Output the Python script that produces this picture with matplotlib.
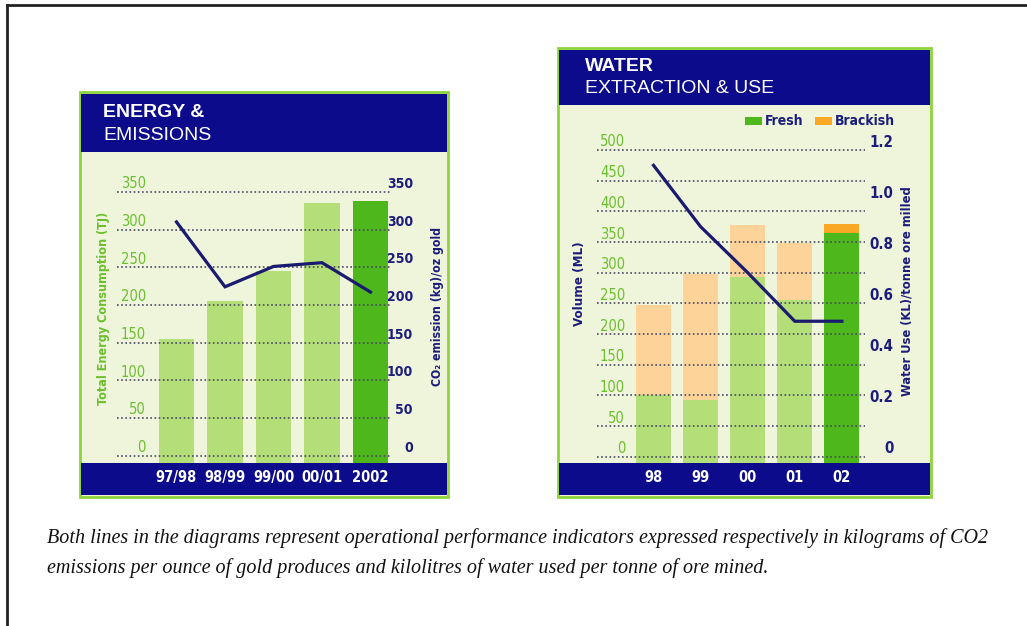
import matplotlib
matplotlib.use('Agg')
import matplotlib.pyplot as plt
from matplotlib.patches import Rectangle
from matplotlib.lines import Line2D
from matplotlib import transforms

# ---- data ----
energy_years = ['97/98', '98/99', '99/00', '00/01', '2002']
energy_tj = [155, 205, 245, 335, 338]
co2_kg_oz = [310, 224, 251, 256, 217]
energy_ticks = [0, 50, 100, 150, 200, 250, 300, 350]

water_years = ['98', '99', '00', '01', '02']
fresh_ml = [100, 92, 293, 255, 365]
brackish_ml = [147, 206, 85, 94, 15]
water_use = [1.14, 0.90, 0.72, 0.53, 0.53]
volume_ticks = [0, 50, 100, 150, 200, 250, 300, 350, 400, 450, 500]
use_ticks = ['0', '0.2', '0.4', '0.6', '0.8', '1.0', '1.2']

W, H = 1027, 626
NAVY = '#0b0b8c'
NAVY_TXT = '#1c1c7c'
LINE = '#1a1a6e'
GREEN_TXT = '#6cbf2e'
BORDER = '#8ed43c'
PANEL_BG = '#eef5da'
LIGHT_GREEN = '#b3de78'
DARK_GREEN = '#4db71c'
LIGHT_ORANGE = '#fdd39a'
DARK_ORANGE = '#f9a826'
GRID = '#4a4a62'
COND = dict(family=['DejaVu Sans'], stretch='condensed')
SANS = ['Liberation Sans', 'DejaVu Sans']


def fx(x):
    return x / W


def fy(y):
    return 1 - y / H


fig = plt.figure(figsize=(W / 100, H / 100), dpi=100)


def rect(x0, y0, x1, y1, z=-5, **kw):
    fig.add_artist(Rectangle((fx(x0), fy(y1)), fx(x1) - fx(x0), fy(y0) - fy(y1),
                             transform=fig.transFigure, zorder=z, **kw))


# outer frame (top and left edges only)
fig.add_artist(Line2D([fx(7), 1], [fy(5), fy(5)], transform=fig.transFigure, color='#222222', lw=2))
fig.add_artist(Line2D([fx(7), fx(7)], [fy(5), 0], transform=fig.transFigure, color='#222222', lw=2))


def chart_axes(x0, x1, ytop, ybot, zero_px, top_px, top_val, c0, step):
    ax = fig.add_axes([fx(x0), fy(ybot), fx(x1) - fx(x0), fy(ytop) - fy(ybot)])
    scale = (zero_px - top_px) / top_val
    ax.set_ylim((zero_px - ybot) / scale, (zero_px - ytop) / scale)
    ax.set_xlim((x0 - c0) / step, (x1 - c0) / step)
    ax.patch.set_alpha(0)
    for s in ax.spines.values():
        s.set_visible(False)
    ax.set_yticks([])
    ax.tick_params(axis='x', length=0, pad=5.5, labelcolor='white')
    return ax


def grid_and_labels(ax, ticks, dx):
    for v in ticks:
        ax.axhline(v, color=GRID, lw=1.2, linestyle=(0, (1, 1.5)), zorder=3)
    off = transforms.offset_copy(ax.get_yaxis_transform(), fig=fig, x=dx, y=8, units='dots')
    for v in ticks:
        ax.text(0, v, str(v), transform=off, ha='right', va='center',
                color=GREEN_TXT, fontsize=10.5, **COND)


def right_labels(axt, vals, texts, dx, size):
    off = transforms.offset_copy(axt.get_yaxis_transform(), fig=fig, x=dx, y=8, units='dots')
    for v, t in zip(vals, texts):
        axt.text(1, v, t, transform=off, ha='right', va='center',
                 color=NAVY_TXT, weight='bold', fontsize=size, **COND)


def twin(ax, factor):
    axt = ax.twinx()
    lo, hi = ax.get_ylim()
    axt.set_ylim(lo * factor, hi * factor)
    axt.patch.set_alpha(0)
    for s in axt.spines.values():
        s.set_visible(False)
    axt.set_yticks([])
    return axt


# ================= ENERGY & EMISSIONS =================
rect(80, 92, 448, 497, facecolor=PANEL_BG, edgecolor=BORDER, lw=2, z=-6)
rect(81, 94, 447, 152, facecolor=NAVY, edgecolor='none')
rect(81, 462.7, 447, 495, facecolor=NAVY, edgecolor='none')
fig.text(fx(103), fy(112.7), 'ENERGY &', color='white', family=SANS, weight='bold',
         fontsize=14, va='center')
fig.text(fx(103), fy(135), 'EMISSIONS', color='white', family=SANS, fontsize=14, va='center')

ax1 = chart_axes(117, 392, 160, 462.7, 455.7, 191.8, 350, 176.5, 48.5)
x1 = list(range(len(energy_years)))
base1 = ax1.get_ylim()[0]
colors1 = [LIGHT_GREEN] * (len(x1) - 1) + [DARK_GREEN]
ax1.bar(x1, [v - base1 for v in energy_tj], bottom=base1, width=0.74, color=colors1, zorder=1)
grid_and_labels(ax1, energy_ticks, 29)
ax1.set_xticks(x1, energy_years, weight='bold', fontsize=10.5, **COND)

ax1t = twin(ax1, 1.0)
ax1t.plot(x1, co2_kg_oz, color=LINE, lw=2.3, solid_joinstyle='miter')
right_labels(ax1t, energy_ticks, [str(v) for v in energy_ticks], 21, 10)

fig.text(fx(103), fy(308), 'Total Energy Consumption (TJ)', rotation=90, ha='center', va='center',
         color=GREEN_TXT, weight='bold', fontsize=9, **COND)
fig.text(fx(437.5), fy(306), 'CO₂ emission (kg)/oz gold', rotation=90, ha='center', va='center',
         color=NAVY_TXT, weight='bold', fontsize=8.8, **COND)

# ================= WATER EXTRACTION & USE =================
rect(558, 48, 931, 497, facecolor=PANEL_BG, edgecolor=BORDER, lw=2, z=-6)
rect(559, 50, 930, 105, facecolor=NAVY, edgecolor='none')
rect(559, 462.7, 930, 495, facecolor=NAVY, edgecolor='none')
fig.text(fx(585), fy(66.7), 'WATER', color='white', family=SANS, weight='bold',
         fontsize=14, va='center')
fig.text(fx(585), fy(88.3), 'EXTRACTION & USE', color='white', family=SANS, fontsize=14, va='center')

ax2 = chart_axes(597, 865, 135, 462.7, 456.7, 150, 500, 653.5, 47.1)
x2 = list(range(len(water_years)))
base2 = ax2.get_ylim()[0]
fresh_cols = [LIGHT_GREEN] * (len(x2) - 1) + [DARK_GREEN]
brack_cols = [LIGHT_ORANGE] * (len(x2) - 1) + [DARK_ORANGE]
ax2.bar(x2, [v - base2 for v in fresh_ml], bottom=base2, width=0.74, color=fresh_cols, zorder=1)
ax2.bar(x2, brackish_ml, bottom=fresh_ml, width=0.74, color=brack_cols, zorder=1)
grid_and_labels(ax2, volume_ticks, 28)
ax2.set_xticks(x2, water_years, weight='bold', fontsize=10.5, **COND)

ax2t = twin(ax2, 1.2 / 500)
ax2t.plot(x2, water_use, color=LINE, lw=2.3, solid_joinstyle='miter')
right_labels(ax2t, [float(t) for t in use_ticks], use_ticks, 28.5, 10.8)

fig.text(fx(580), fy(284), 'Volume (ML)', rotation=90, ha='center', va='center',
         color=NAVY_TXT, weight='bold', fontsize=9.5, **COND)
fig.text(fx(906.7), fy(291), 'Water Use (KL)/tonne ore milled', rotation=90, ha='center', va='center',
         color=NAVY_TXT, weight='bold', fontsize=9.3, **COND)

# legend
rect(745, 117, 762, 125, facecolor=DARK_GREEN, edgecolor='none', z=1)
fig.text(fx(765), fy(121), 'Fresh', color=NAVY_TXT, weight='bold', fontsize=10, va='center', **COND)
rect(815, 117, 832, 125, facecolor=DARK_ORANGE, edgecolor='none', z=1)
fig.text(fx(835), fy(121), 'Brackish', color=NAVY_TXT, weight='bold', fontsize=10, va='center', **COND)

# caption
fig.text(fx(47), fy(538), 'Both lines in the diagrams represent operational performance indicators '
         'expressed respectively in kilograms of CO2', family=['Liberation Serif'], style='italic',
         fontsize=14.5, va='center', color='#111111')
fig.text(fx(47), fy(568), 'emissions per ounce of gold produces and kilolitres of water used per '
         'tonne of ore mined.', family=['Liberation Serif'], style='italic',
         fontsize=14.5, va='center', color='#111111')

fig.savefig('out.png', dpi=100, facecolor='white')
